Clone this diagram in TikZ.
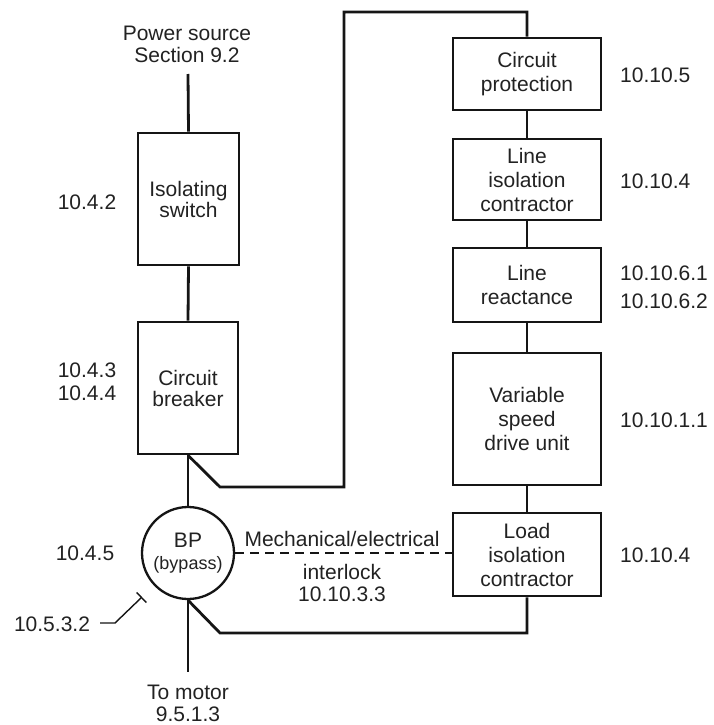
\documentclass[tikz,border=0pt]{standalone}
\usepackage{fontspec}
\setmainfont{Liberation Sans}
\usetikzlibrary{arrows.meta}
\definecolor{linec}{HTML}{151515}
\definecolor{textc}{HTML}{222222}
\newcommand{\fsmain}{\fontsize{21}{24}\selectfont}
\newcommand{\fssmall}{\fontsize{18}{20}\selectfont}
\begin{document}
\begin{tikzpicture}[x=1pt,y=-1pt,
  blk/.style={draw=linec, line width=2.6pt, fill=white, align=center, inner sep=0pt, text=textc, font=\fsmain},
  wire/.style={draw=linec, line width=2.8pt, line join=miter},
  lbl/.style={text=textc, align=center, inner sep=0pt, font=\fsmain},
  rlbl/.style={text=textc, align=left, inner sep=0pt, font=\fsmain, anchor=west}]
\useasboundingbox[fill=white] (0,0) rectangle (713,725);

% left column
\node[lbl] (ps) at (187,44) {Power source\\[-2pt]Section 9.2};
\coordinate (pstop) at (188,74);
\node[blk, minimum width=101pt, minimum height=132pt] (iso) at (188.5,199) {Isolating\\[-3pt]switch};
\node[blk, minimum width=100pt, minimum height=132pt] (cb) at (188,388) {Circuit\\[-3pt]breaker};
\node[circle, draw=linec, line width=2.3pt, minimum size=92pt, inner sep=0pt, fill=white] (bp) at (188,553) {};
\node[lbl] (bptxt) at (188,540) {BP};
\node[lbl, font=\fssmall] (bpsub) at (188,565) {(bypass)};
\coordinate (motor) at (188,672);
\node[lbl] (tm) at (188,703) {To motor\\[-2pt]9.5.1.3};

% right column
\node[blk, minimum width=148pt, minimum height=72pt] (cp) at (527,74) {Circuit\\protection};
\node[blk, minimum width=148pt, minimum height=81pt] (lic) at (527,179.5) {Line\\isolation\\contractor};
\node[blk, minimum width=148pt, minimum height=74pt] (lr) at (527,285) {Line\\reactance};
\node[blk, minimum width=148pt, minimum height=132pt] (vsd) at (527,419) {Variable\\speed\\drive unit};
\node[blk, minimum width=148pt, minimum height=83pt] (lo) at (527,554.5) {Load\\isolation\\contractor};

% side labels
\node[lbl] (l1) at (87,202) {10.4.2};
\node[lbl] (l2) at (87,370) {10.4.3};
\node[lbl] (l3) at (87,393) {10.4.4};
\node[lbl] (l4) at (85,553) {10.4.5};
\node[lbl] (l5) at (52,624) {10.5.3.2};
\node[rlbl] (r1) at (620,75) {10.10.5};
\node[rlbl] (r2) at (620,181) {10.10.4};
\node[rlbl] (r3) at (620,273) {10.10.6.1};
\node[rlbl] (r4) at (620,301) {10.10.6.2};
\node[rlbl] (r5) at (620,420) {10.10.1.1};
\node[rlbl] (r6) at (620,555) {10.10.4};

% interlock
\node[lbl] (mech) at (342,539) {Mechanical/electrical};
\node[lbl] (intl) at (342,583) {interlock\\[-2pt]10.10.3.3};

% connectors
\draw[wire] (pstop) -- (iso.north);
\draw[wire] (iso.south) -- (cb.north);
\draw[wire] (cb.south) -- (bp.north);
\draw[wire] (bp.south) -- (motor);
\coordinate (k1) at (220,487);
\coordinate (k2) at (344,487);
\coordinate (k3) at (344,12);
\coordinate (k4) at (527,12);
\draw[wire] (cb.south) -- (k1) -- (k2) -- (k3) -- (k4) -- (cp.north);
\draw[wire] (cp.south) -- (lic.north);
\draw[wire] (lic.south) -- (lr.north);
\draw[wire] (lr.south) -- (vsd.north);
\draw[wire] (vsd.south) -- (lo.north);
\coordinate (m1) at (220,633);
\coordinate (m2) at (527,633);
\draw[wire] (bp.south) -- (m1) -- (m2) -- (lo.south);
\draw[draw=linec, line width=1.6pt, dash pattern=on 9pt off 6pt] (bp.east) -- (lo.west |- bp.east);

% leader 10.5.3.2
\coordinate (d1) at (100,623);
\coordinate (d2) at (115,623);
\coordinate (d3) at (142,597);
\draw[draw=linec, line width=1.4pt, -{Bar[width=14pt,line width=1.4pt]}] (d1) -- (d2) -- (d3);
\end{tikzpicture}
\end{document}
